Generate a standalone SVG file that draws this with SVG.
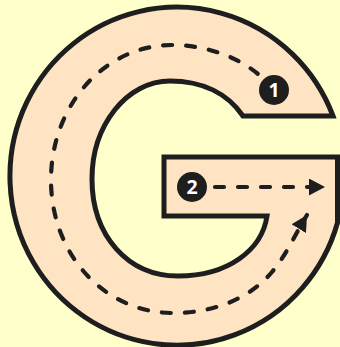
<svg xmlns="http://www.w3.org/2000/svg" width="340" height="347" viewBox="0 0 340 347">
  <style>
    .shape { fill: #ffe4c4; stroke: #1e1e1e; stroke-width: 5; stroke-linejoin: miter; }
    .dash { fill: none; stroke: #1e1e1e; stroke-width: 4.2; stroke-linecap: round; stroke-dasharray: 9 14; }
    .badge { fill: #1e1e1e; }
    .num { fill: #ffffff; font-family: "Open Sans", "DejaVu Sans", sans-serif; font-weight: bold; font-size: 19.5px; text-anchor: middle; }
  </style>
  <defs>
    <marker id="arrow" markerUnits="userSpaceOnUse" markerWidth="18" markerHeight="18" refX="16" refY="8.5" orient="auto">
      <path d="M0,0 L16,8.5 L0,17 Z" fill="#1e1e1e"/>
    </marker>
  </defs>
  <rect x="0" y="0" width="340" height="347" fill="#ffffcc"/>
  <g id="letter-g">
    <path class="shape" d="M333,116 A167,169 0 1 0 337.5,222.7 L337.5,157 L164,157 L164,216 L267,216 C262,250 228,276 178,276 C128,276 92,236 92,179 C92,125 127,81 170,81 C203,81 228,94 243,116 Z"/>
  </g>
  <g id="connectors">
    <path class="dash" marker-end="url(#arrow)" d="M274,90 C250,60 210,45 172,45 C105,45 51,105 51,180 C51,255 105,313 173,313 C215,313 250,298 272,272 C287,254 293,238 307,215"/>
    <path class="dash" marker-end="url(#arrow)" d="M192,187 L325,187"/>
  </g>
  <g id="step-1">
    <circle class="badge" cx="274" cy="90" r="15"/>
    <text class="num" x="274" y="97">1</text>
  </g>
  <g id="step-2">
    <circle class="badge" cx="192" cy="187" r="15"/>
    <text class="num" x="192" y="194">2</text>
  </g>
</svg>
